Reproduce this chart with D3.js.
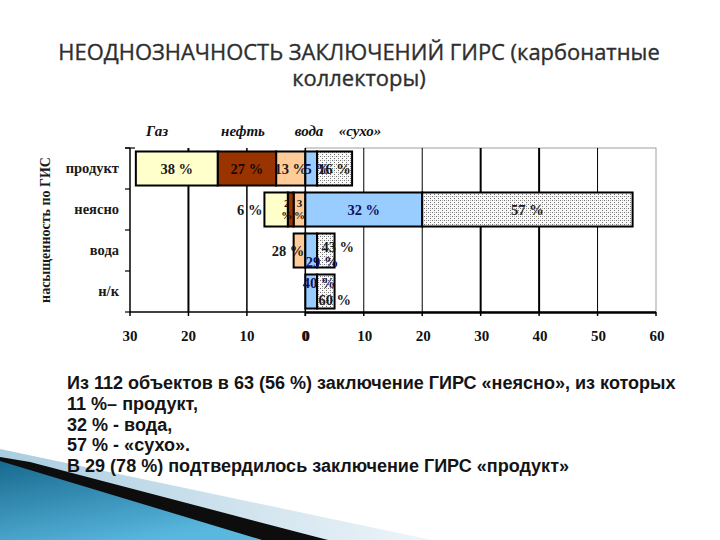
<!DOCTYPE html>
<html><head><meta charset="utf-8">
<script src="https://cdn.jsdelivr.net/npm/d3@7"></script>
<style>body{margin:0;background:#fff}svg{display:block}</style>
</head><body><svg id="c" width="720" height="540"></svg>
<script>
// ---- data ----
const categories = ["продукт", "неясно", "вода", "н/к"];
// left side (counts, drawn leftwards from 0), ordered from 0 outward
const waterOilCounts = [5, 2, 2, 0];   // peach
const oilCounts      = [10, 1, 0, 0];  // brown
const gasCounts      = [14, 4, 0, 0];  // light yellow
// right side
const waterCounts = [2, 20, 2, 2];     // light blue
const dryCounts   = [6, 36, 3, 3];     // dotted «сухо»
const waterOilLabels = ["13 %", "3 %", "28 %", ""];
const oilLabels      = ["27 %", "2 %", "", ""];
const gasLabels      = ["38 %", "6 %", "", ""];
const waterLabels    = ["5 %", "32 %", "29 %", "40 %"];
const dryLabels      = ["16 %", "57 %", "43 %", "60 %"];
const leftTicks  = [30, 20, 10, 0];
const rightTicks = [0, 10, 20, 30, 40, 50, 60];
const legendNames = ["Газ", "нефть", "вода", "«сухо»"];
const titleLines = ["НЕОДНОЗНАЧНОСТЬ ЗАКЛЮЧЕНИЙ ГИРС (карбонатные", "коллекторы)"];
const bodyLines = [
  "Из 112 объектов в 63 (56 %) заключение ГИРС «неясно», из которых",
  "11 %– продукт,",
  "32 % - вода,",
  "57 % - «сухо».",
  "В 29 (78 %) подтвердилось заключение ГИРС «продукт»"
];
const yTitle = "насыщенность по ГИС";

// ---- drawing ----
const svg = d3.select("#c");
const defs = svg.append("defs");
svg.append("rect").attr("width", 720).attr("height", 540).attr("fill", "#fff");

const pat = defs.append("pattern").attr("id", "dots").attr("width", 4).attr("height", 4)
  .attr("patternUnits", "userSpaceOnUse");
pat.append("rect").attr("width", 4).attr("height", 4).attr("fill", "#f8f8f8");
pat.append("rect").attr("x", 0).attr("y", 0).attr("width", 1).attr("height", 1).attr("fill", "#707070");
pat.append("rect").attr("x", 2).attr("y", 2).attr("width", 1).attr("height", 1).attr("fill", "#707070");
pat.append("rect").attr("x", 2).attr("y", 0).attr("width", 1).attr("height", 1).attr("fill", "#b0b0b0");

const gBlue = defs.append("linearGradient").attr("id", "gblue")
  .attr("x1", "0").attr("y1", "0").attr("x2", "0.6").attr("y2", "1");
gBlue.append("stop").attr("offset", "0").attr("stop-color", "#17698f");
gBlue.append("stop").attr("offset", "1").attr("stop-color", "#5ab8df");
const gLight = defs.append("linearGradient").attr("id", "glight")
  .attr("x1", "0").attr("y1", "0").attr("x2", "1").attr("y2", "0");
gLight.append("stop").attr("offset", "0").attr("stop-color", "#aacde0");
gLight.append("stop").attr("offset", "1").attr("stop-color", "#eef5f9");

// decoration bottom-left
svg.append("polygon").attr("points", "0,449 432,540 0,540").attr("fill", "url(#glight)");
svg.append("polygon").attr("points", "0,457 30,462 328,540 0,540").attr("fill", "#0d0d0d");
svg.append("polygon").attr("points", "0,461 262,540 0,540").attr("fill", "url(#gblue)");

// title
const title = svg.append("g").attr("font-family", "'Open Sans', 'DejaVu Sans', sans-serif")
  .attr("fill", "#2e2e2e").attr("text-anchor", "middle").attr("font-weight", "normal")
  .attr("stroke", "#2e2e2e").attr("stroke-width", 0.35);
const tl1 = title.append("text").attr("x", 359).attr("y", 60).attr("font-size", 20).text(titleLines[0]);
const tw = tl1.node().getComputedTextLength();
const tSize = 20 * 602 / tw;
tl1.attr("font-size", tSize);
title.append("text").attr("x", 359).attr("y", 86).attr("font-size", tSize).text(titleLines[1]);

// scales
const x = d3.scaleLinear().domain([-30, 60]).range([130, 656]);
const y = d3.scaleBand().domain(categories).range([148, 312]).paddingInner(0.17).paddingOuter(0.085);
const yB = d3.scaleBand().domain(categories).range([148, 312]).padding(0);
const yTop = 148, yBot = 312;

// right frame
svg.append("rect").attr("x", x(0)).attr("y", yTop).attr("width", x(60) - x(0)).attr("height", yBot - yTop)
  .attr("fill", "none").attr("stroke", "#a0a0a0").attr("stroke-width", 1);
// grid lines
const gridW = {"-20": 2, "-10": 1.5, "10": 1, "20": 1, "30": 2, "40": 2, "50": 1};
[-20, -10, 10, 20, 30, 40, 50].forEach(v => {
  svg.append("line").attr("x1", x(v)).attr("x2", x(v)).attr("y1", yTop).attr("y2", yBot)
    .attr("stroke", "#000").attr("stroke-width", gridW[v]);
});
svg.append("line").attr("x1", x(0)).attr("x2", x(0)).attr("y1", yTop).attr("y2", yBot).attr("stroke", "#000").attr("stroke-width", 1.5);

// rows for stacking
const rows = categories.map((c, i) => ({
  cat: c, wo: waterOilCounts[i], oil: oilCounts[i], gas: gasCounts[i],
  water: waterCounts[i], dry: dryCounts[i]
}));
const labelsBy = {wo: waterOilLabels, oil: oilLabels, gas: gasLabels, water: waterLabels, dry: dryLabels};
const fills = {wo: "#ffcc99", oil: "#993300", gas: "#ffffcc", water: "#99ccff", dry: "url(#dots)"};
const txtCol = {wo: "#1a1a1a", oil: "#1a0800", gas: "#1a1a1a", water: "#10105e", dry: "#1a1a1a"};

const leftStack = d3.stack().keys(["wo", "oil", "gas"])(rows);
const rightStack = d3.stack().keys(["water", "dry"])(rows);

const segs = [];
leftStack.forEach(s => s.forEach((d, i) => {
  if (d[1] - d[0] > 0) segs.push({key: s.key, i, cat: d.data.cat, x0: x(-d[1]), x1: x(-d[0])});
}));
rightStack.forEach(s => s.forEach((d, i) => {
  if (d[1] - d[0] > 0) segs.push({key: s.key, i, cat: d.data.cat, x0: x(d[0]), x1: x(d[1])});
}));

svg.append("g").selectAll("rect").data(segs).join("rect")
  .attr("x", d => d.x0).attr("width", d => d.x1 - d.x0)
  .attr("y", d => y(d.cat)).attr("height", y.bandwidth())
  .attr("fill", d => fills[d.key]).attr("stroke", "#000").attr("stroke-width", 2);

// axes lines
svg.append("line").attr("x1", x(-30)).attr("x2", x(-30)).attr("y1", yTop).attr("y2", yBot).attr("stroke", "#000").attr("stroke-width", 1.5);
svg.append("line").attr("x1", x(-30)).attr("x2", x(0)).attr("y1", yBot).attr("y2", yBot).attr("stroke", "#000").attr("stroke-width", 1.5);
svg.append("line").attr("x1", x(0)).attr("x2", x(60)).attr("y1", yBot + 0.5).attr("y2", yBot + 0.5).attr("stroke", "#000").attr("stroke-width", 2.5);
categories.concat(["end"]).forEach((c, i) => {
  const yy = i < categories.length ? yB(c) : yBot;
  svg.append("line").attr("x1", x(-30) - 5).attr("x2", x(-30)).attr("y1", yy).attr("y2", yy).attr("stroke", "#000").attr("stroke-width", 1.2);
});
svg.append("line").attr("x1", x(-30) - 5).attr("x2", x(-30) + 5).attr("y1", yTop).attr("y2", yTop).attr("stroke", "#000").attr("stroke-width", 1.2);

// x ticks
const tickG = svg.append("g").attr("font-family", "'Liberation Serif', 'Times New Roman', serif")
  .attr("font-weight", "bold").attr("font-size", 15).attr("fill", "#111").attr("text-anchor", "middle");
leftTicks.forEach(v => {
  svg.append("line").attr("x1", x(-v)).attr("x2", x(-v)).attr("y1", yBot).attr("y2", yBot + 4).attr("stroke", "#000").attr("stroke-width", 1.5);
  tickG.append("text").attr("x", x(-v)).attr("y", 341).text(v);
});
rightTicks.forEach(v => {
  svg.append("line").attr("x1", x(v)).attr("x2", x(v)).attr("y1", yBot).attr("y2", yBot + 4).attr("stroke", "#000").attr("stroke-width", 1.5);
  tickG.append("text").attr("x", x(v) + 1).attr("y", 341).text(v);
});

// category labels
const catG = svg.append("g").attr("font-family", "'Liberation Serif', 'Times New Roman', serif")
  .attr("font-size", 14.5).attr("fill", "#1a1a1a").attr("text-anchor", "end").attr("font-weight", "bold");
categories.forEach(c => {
  catG.append("text").attr("x", 119).attr("y", yB(c) + yB.bandwidth() / 2 + 4).text(c);
});
// y title
svg.append("text").attr("transform", "translate(50,230) rotate(-90)")
  .attr("font-family", "'Liberation Serif', 'Times New Roman', serif").attr("font-weight", "bold")
  .attr("font-size", 14).attr("fill", "#1a1a1a").attr("text-anchor", "middle").text(yTitle);

// legend labels
const legX = [157, 243, 309, 360];
const legG = svg.append("g").attr("font-family", "'Liberation Serif', 'Times New Roman', serif")
  .attr("font-weight", "bold").attr("font-style", "italic").attr("font-size", 15)
  .attr("fill", "#111").attr("text-anchor", "middle");
legendNames.forEach((n, i) => legG.append("text").attr("x", legX[i]).attr("y", 136).text(n));

// bar labels
const tweak = {
  "water-0": {dx: 6},
  "gas-1": {anchor: "end", atLeft: true, dx: -2},
  "oil-1": {wrap: true, dx: -4},
  "wo-1": {wrap: true, dx: 0},
  "wo-2": {anchor: "end", atRight: true, dx: -1},
  "water-2": {dx: 11, dy: 11.5},
  "dry-2": {dx: 12, dy: -3.5},
  "water-3": {dx: 8, dy: -8.5},
  "dry-3": {dx: 9, dy: 8.5}
};
const labG = svg.append("g").attr("font-family", "'Liberation Serif', 'Times New Roman', serif")
  .attr("font-weight", "bold").attr("font-size", 14.5);
segs.forEach(s => {
  const lab = labelsBy[s.key][s.i];
  if (!lab) return;
  const t = tweak[s.key + "-" + s.i] || {};
  let tx = (s.x0 + s.x1) / 2, anchor = "middle";
  if (t.atLeft) tx = s.x0;
  if (t.atRight) tx = s.x1;
  if (t.anchor) anchor = t.anchor;
  tx += (t.dx || 0);
  const cy = y(s.cat) + y.bandwidth() / 2 + (t.dy || 0);
  const el = labG.append("text").attr("x", tx).attr("text-anchor", anchor).attr("fill", txtCol[s.key]);
  if (t.wrap) {
    const parts = lab.split(" ");
    el.attr("font-size", 11).attr("y", cy - 3);
    parts.forEach((p, k) => el.append("tspan").attr("x", tx).attr("dy", k === 0 ? 0 : 12).text(p));
  } else {
    el.attr("y", cy + 5).text(lab);
  }
});

// body text
const bodyG = svg.append("g").attr("font-family", "'Liberation Sans', Arial, sans-serif")
  .attr("font-weight", "bold").attr("fill", "#141414");
const b1 = bodyG.append("text").attr("x", 67).attr("y", 389).attr("font-size", 17).text(bodyLines[0]);
const bSize = 17 * 609 / b1.node().getComputedTextLength();
b1.attr("font-size", bSize);
bodyLines.slice(1).forEach((l, k) => {
  bodyG.append("text").attr("x", 67).attr("y", 389 + 20.8 * (k + 1)).attr("font-size", bSize).text(l);
});
</script></body></html>
